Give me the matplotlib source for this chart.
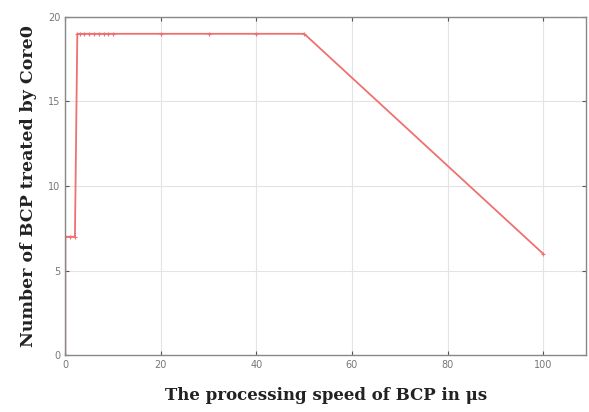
import matplotlib
matplotlib.use("Agg")
import matplotlib.pyplot as plt

speed = [0, 0, 1, 2, 2.5, 3, 4, 5, 6, 7, 8, 9, 10, 20, 30, 40, 50, 100]
bcp_core0 = [0, 7, 7, 7, 19, 19, 19, 19, 19, 19, 19, 19, 19, 19, 19, 19, 19, 6]

xticks = [0, 20, 40, 60, 80, 100]
yticks = [0, 5, 10, 15, 20]

fig = plt.figure(figsize=(5.89, 4.12), dpi=100)
ax = fig.add_axes([0.111, 0.138, 0.884, 0.821])

ax.plot(speed, bcp_core0, color="#f07070", lw=1.3, marker="+", ms=3, mew=0.8)

ax.set_xlim(0, 109)
ax.set_ylim(0, 20)
ax.set_xticks(xticks)
ax.set_yticks(yticks)
ax.grid(True, color="#e4e4e4", lw=0.8)
ax.tick_params(direction="in", top=True, right=True, length=3,
               labelsize=7, labelcolor="#777777", color="#555555")
for s in ax.spines.values():
    s.set_color("#888888")
    s.set_linewidth(1.0)

ax.set_xlabel("The processing speed of BCP in \u03bcs", family="DejaVu Serif",
              fontweight="bold", fontsize=12, color="#222222", labelpad=12)
ax.set_ylabel("Number of BCP treated by Core0", family="DejaVu Serif",
              fontweight="bold", fontsize=12.5, color="#222222", labelpad=8)

fig.savefig("out.png", dpi=100)
